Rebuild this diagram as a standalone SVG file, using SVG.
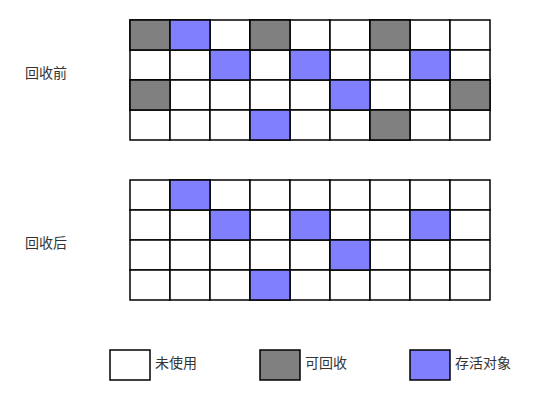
<svg xmlns="http://www.w3.org/2000/svg" width="550" height="400" viewBox="0 0 550 400">
<style>
rect{stroke:#000;stroke-width:1.5}
rect.bg{stroke:none;fill:#fff}
.w{fill:#fff}.g{fill:#808080}.b{fill:#8080ff}
text{font-family:"Noto Sans CJK SC","Liberation Sans",sans-serif;font-size:14px;fill:#333}
</style>
<rect class="bg" x="0" y="0" width="550" height="400"/>
<defs>
<g id="row"><rect class="w" x="0" y="0" width="40" height="30"/><rect class="w" x="40" y="0" width="40" height="30"/><rect class="w" x="80" y="0" width="40" height="30"/><rect class="w" x="120" y="0" width="40" height="30"/><rect class="w" x="160" y="0" width="40" height="30"/><rect class="w" x="200" y="0" width="40" height="30"/><rect class="w" x="240" y="0" width="40" height="30"/><rect class="w" x="280" y="0" width="40" height="30"/><rect class="w" x="320" y="0" width="40" height="30"/></g>
</defs>
<g id="before">
<use href="#row" x="130" y="20"/><use href="#row" x="130" y="50"/><use href="#row" x="130" y="80"/><use href="#row" x="130" y="110"/>
<rect class="g" x="130" y="20" width="40" height="30"/>
<rect class="b" x="170" y="20" width="40" height="30"/>
<rect class="g" x="250" y="20" width="40" height="30"/>
<rect class="g" x="370" y="20" width="40" height="30"/>
<rect class="b" x="210" y="50" width="40" height="30"/>
<rect class="b" x="290" y="50" width="40" height="30"/>
<rect class="b" x="410" y="50" width="40" height="30"/>
<rect class="g" x="130" y="80" width="40" height="30"/>
<rect class="b" x="330" y="80" width="40" height="30"/>
<rect class="g" x="450" y="80" width="40" height="30"/>
<rect class="b" x="250" y="110" width="40" height="30"/>
<rect class="g" x="370" y="110" width="40" height="30"/>
<text x="25" y="78">回收前</text>
</g>
<g id="after">
<use href="#row" x="130" y="180"/><use href="#row" x="130" y="210"/><use href="#row" x="130" y="240"/><use href="#row" x="130" y="270"/>
<rect class="b" x="170" y="180" width="40" height="30"/>
<rect class="b" x="210" y="210" width="40" height="30"/>
<rect class="b" x="290" y="210" width="40" height="30"/>
<rect class="b" x="410" y="210" width="40" height="30"/>
<rect class="b" x="330" y="240" width="40" height="30"/>
<rect class="b" x="250" y="270" width="40" height="30"/>
<text x="25" y="248">回收后</text>
</g>
<g id="legend">
<rect class="w" x="110" y="350" width="40" height="30"/><text x="155" y="368">未使用</text>
<rect class="g" x="260" y="350" width="40" height="30"/><text x="305" y="368">可回收</text>
<rect class="b" x="410" y="350" width="40" height="30"/><text x="455" y="368">存活对象</text>
</g>
<g id="connectors"/>
</svg>
